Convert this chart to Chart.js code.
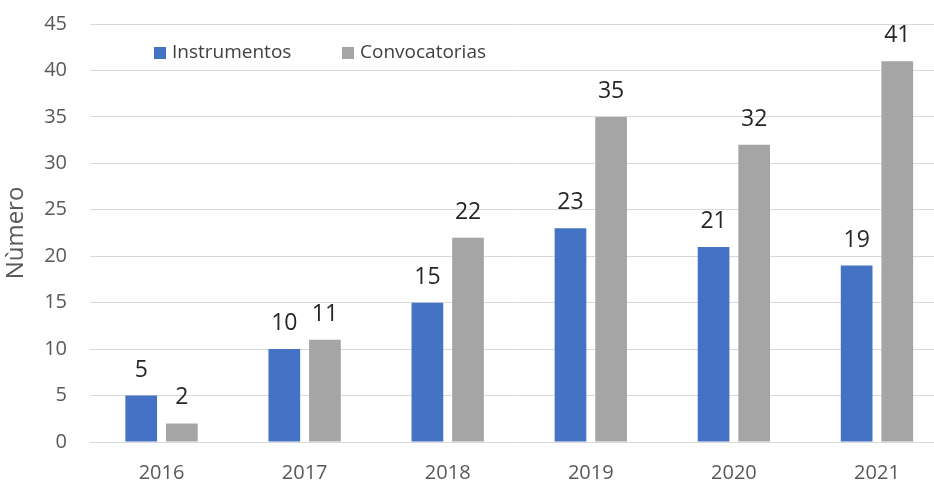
<!DOCTYPE html>
<html>
<head>
<meta charset="utf-8">
<script src="https://cdn.jsdelivr.net/npm/chart.js@4.4.1/dist/chart.umd.min.js"></script>
<style>
  html, body { margin: 0; padding: 0; background: #fff; overflow: hidden; }
  #wrap { width: 950px; height: 484px; }
</style>
</head>
<body>
<div id="wrap"><canvas id="chart"></canvas></div>
<script>
// data
const years = ['2016', '2017', '2018', '2019', '2020', '2021'];
const instrumentos = [5, 10, 15, 23, 21, 19];
const convocatorias = [2, 11, 22, 35, 32, 41];
const yTitle = 'Nùmero';

const FONT = "'Open Sans', 'Liberation Sans', sans-serif";

// value labels above each bar
const valueLabels = {
    id: 'valueLabels',
    afterDatasetsDraw(chart) {
        const ctx = chart.ctx;
        ctx.save();
        ctx.font = '23px ' + FONT;
        ctx.fillStyle = '#262626';
        ctx.textAlign = 'center';
        ctx.textBaseline = 'alphabetic';
        chart.data.datasets.forEach((ds, i) => {
            chart.getDatasetMeta(i).data.forEach((bar, j) => {
                ctx.fillText(ds.data[j], bar.x, bar.y - 19);
            });
        });
        ctx.restore();
    }
};

// legend drawn inside the plot area
const innerLegend = {
    id: 'innerLegend',
    afterDraw(chart) {
        const ctx = chart.ctx;
        const xs = [154, 342];
        const y = 53;
        ctx.save();
        ctx.font = '19px ' + FONT;
        ctx.textBaseline = 'middle';
        ctx.textAlign = 'left';
        chart.data.datasets.forEach((ds, i) => {
            ctx.fillStyle = ds.backgroundColor;
            ctx.fillRect(xs[i], y - 6, 12, 12);
            ctx.fillStyle = '#404040';
            ctx.fillText(ds.label, xs[i] + 18, y);
        });
        ctx.restore();
    }
};

new Chart(document.getElementById('chart'), {
    type: 'bar',
    data: {
        labels: years,
        datasets: [
            { label: 'Instrumentos', data: instrumentos, backgroundColor: '#4472C4' },
            { label: 'Convocatorias', data: convocatorias, backgroundColor: '#A5A5A5' }
        ]
    },
    options: {
        responsive: true,
        maintainAspectRatio: false,
        animation: false,
        devicePixelRatio: 1,
        layout: { padding: { left: 0, right: 1.5, top: 24, bottom: 0 } },
        datasets: { bar: { categoryPercentage: 0.568, barPercentage: 0.78 } },
        plugins: { legend: { display: false }, tooltip: { enabled: false } },
        scales: {
            x: {
                grid: { display: false, drawTicks: false },
                border: { display: false },
                ticks: { color: '#595959', font: { family: FONT, size: 20 }, padding: 19 },
                afterFit: (s) => { s.height = 42; s.paddingLeft = 0; s.paddingRight = 0; }
            },
            y: {
                min: 0, max: 45,
                ticks: { stepSize: 5, color: '#595959', font: { family: FONT, size: 20 }, padding: 23 },
                grid: { color: '#D9D9D9', lineWidth: 1, drawTicks: false },
                border: { display: false },
                title: { display: true, text: yTitle, color: '#595959', font: { family: FONT, size: 24 }, padding: { top: 2, bottom: 0 } },
                afterFit: (s) => { s.width = 90; s.paddingTop = 0; s.paddingBottom = 0; }
            }
        }
    },
    plugins: [valueLabels, innerLegend]
});
</script>
</body>
</html>
